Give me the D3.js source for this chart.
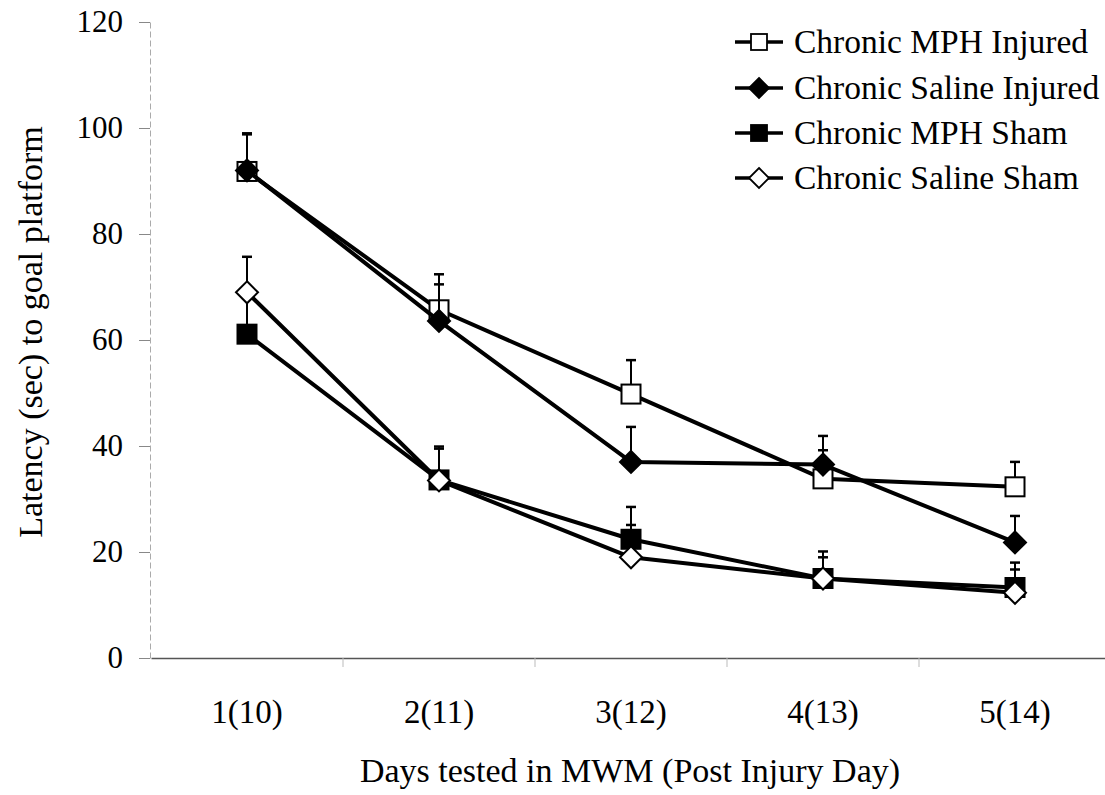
<!DOCTYPE html>
<html>
<head>
<meta charset="utf-8">
<script src="https://cdn.jsdelivr.net/npm/d3@7"></script>
<style>
  body { margin: 0; background: #fff; }
  text { font-family: "Liberation Serif", "Times New Roman", serif; fill: #000; }
</style>
</head>
<body>
<div id="chart"></div>
<script>
// days on the x axis
var days = ["1(10)", "2(11)", "3(12)", "4(13)", "5(14)"];
var yTicks = [0, 20, 40, 60, 80, 100, 120];

// series means (latency, sec) and upper error (SEM)
var mphInjured = [91.8, 65.7, 49.8, 33.8, 32.3];
var mphInjuredErr = [7.0, 6.7, 6.4, 5.4, 4.7];
var salineInjured = [92.0, 63.6, 37.0, 36.5, 21.8];
var salineInjuredErr = [7.0, 6.9, 6.6, 5.4, 5.0];
var mphSham = [61.1, 33.6, 22.4, 15.0, 13.3];
var mphShamErr = [8.0, 6.3, 6.1, 4.0, 4.7];
var salineSham = [69.0, 33.5, 19.0, 15.0, 12.3];
var salineShamErr = [6.7, 6.0, 6.1, 5.1, 4.4];

var seriesNames = ["Chronic MPH Injured", "Chronic Saline Injured", "Chronic MPH Sham", "Chronic Saline Sham"];

var series = [
  { name: seriesNames[0], values: mphInjured, err: mphInjuredErr, shape: "square", fill: "#fff" },
  { name: seriesNames[1], values: salineInjured, err: salineInjuredErr, shape: "diamond", fill: "#000" },
  { name: seriesNames[2], values: mphSham, err: mphShamErr, shape: "square", fill: "#000" },
  { name: seriesNames[3], values: salineSham, err: salineShamErr, shape: "diamond", fill: "#fff" }
];

function init() {
  var w = 1105, h = 795;
  var svg = d3.select("#chart").append("svg")
      .attr("width", w)
      .attr("height", h);

  var x = d3.scaleBand().domain(days).range([151, 1111]).padding(0);
  var y = d3.scaleLinear().domain([0, 120]).range([658, 22]);
  var cx = function (d) { return x(d) + x.bandwidth() / 2; };

  // y axis
  var yAxis = svg.append("g")
      .attr("transform", "translate(150,0)")
      .call(d3.axisLeft(y).tickValues(yTicks).tickSize(11).tickPadding(16).tickSizeOuter(0));
  yAxis.select(".domain").attr("stroke", "#aaa").attr("stroke-dasharray", "6,3");
  yAxis.selectAll(".tick line").attr("stroke", "#888");
  yAxis.selectAll("text").style("font-size", "31px").attr("font-family", null);

  // x axis
  var xAxis = svg.append("g")
      .attr("transform", "translate(0,658)")
      .call(d3.axisBottom(x).tickSize(0).tickPadding(42));
  xAxis.select(".domain").attr("stroke", "#555").attr("stroke-width", 1.5);
  xAxis.selectAll("text").style("font-size", "33px").attr("font-family", null);

  // small category boundary ticks
  svg.append("g").selectAll("line")
      .data(days.slice(1))
      .enter().append("line")
      .attr("x1", function (d) { return x(d); })
      .attr("x2", function (d) { return x(d); })
      .attr("y1", 658).attr("y2", 667)
      .attr("stroke", "#bbb");

  // axis titles
  svg.append("text")
      .attr("x", 630).attr("y", 782)
      .attr("text-anchor", "middle")
      .style("font-size", "34px")
      .text("Days tested in MWM (Post Injury Day)");

  svg.append("text")
      .attr("transform", "translate(42,332) rotate(-90)")
      .attr("text-anchor", "middle")
      .style("font-size", "34px")
      .text("Latency (sec) to goal platform");

  var line = d3.line()
      .x(function (d, i) { return cx(days[i]); })
      .y(function (d) { return y(d); });

  var diamond = function (s) { return "M0," + (-s) + "L" + s + ",0L0," + s + "L" + (-s) + ",0Z"; };

  series.forEach(function (s) {
    var g = svg.append("g");
    // line
    g.append("path")
        .datum(s.values)
        .attr("d", line)
        .attr("fill", "none")
        .attr("stroke", "#000")
        .attr("stroke-width", 4)
        .attr("stroke-linejoin", "round");

    // upper error bars
    var eb = g.selectAll(".eb").data(s.values).enter().append("g");
    eb.append("line")
        .attr("x1", function (d, i) { return cx(days[i]); })
        .attr("x2", function (d, i) { return cx(days[i]); })
        .attr("y1", function (d) { return y(d); })
        .attr("y2", function (d, i) { return y(d + s.err[i]); })
        .attr("stroke", "#000").attr("stroke-width", 2);
    eb.append("line")
        .attr("x1", function (d, i) { return cx(days[i]) - 5; })
        .attr("x2", function (d, i) { return cx(days[i]) + 5; })
        .attr("y1", function (d, i) { return y(d + s.err[i]); })
        .attr("y2", function (d, i) { return y(d + s.err[i]); })
        .attr("stroke", "#000").attr("stroke-width", 2.5);

    // markers
    var m = g.selectAll(".mk").data(s.values).enter().append("g")
        .attr("transform", function (d, i) { return "translate(" + cx(days[i]) + "," + y(d) + ")"; });
    if (s.shape === "square") {
      m.append("rect")
          .attr("x", -9.5).attr("y", -9.5).attr("width", 19).attr("height", 19)
          .attr("fill", s.fill).attr("stroke", "#000").attr("stroke-width", 2);
    } else {
      m.append("path")
          .attr("d", diamond(11))
          .attr("fill", s.fill).attr("stroke", "#000").attr("stroke-width", 2);
    }
  });

  // legend
  var legend = svg.append("g");
  var rowY = [42, 88, 133, 178];
  series.forEach(function (s, i) {
    var r = legend.append("g").attr("transform", "translate(0," + rowY[i] + ")");
    r.append("line")
        .attr("x1", 735).attr("x2", 783).attr("y1", 0).attr("y2", 0)
        .attr("stroke", "#000").attr("stroke-width", 3.5);
    if (s.shape === "square") {
      r.append("rect")
          .attr("x", 751).attr("y", -8).attr("width", 16).attr("height", 16)
          .attr("fill", s.fill).attr("stroke", "#000").attr("stroke-width", 1.8);
    } else {
      r.append("path")
          .attr("transform", "translate(759,0)")
          .attr("d", diamond(10))
          .attr("fill", s.fill).attr("stroke", "#000").attr("stroke-width", 1.8);
    }
    r.append("text")
        .attr("x", 794).attr("y", 11)
        .style("font-size", "33.5px")
        .text(s.name);
  });
}
window.onload = init;
</script>
</body>
</html>
